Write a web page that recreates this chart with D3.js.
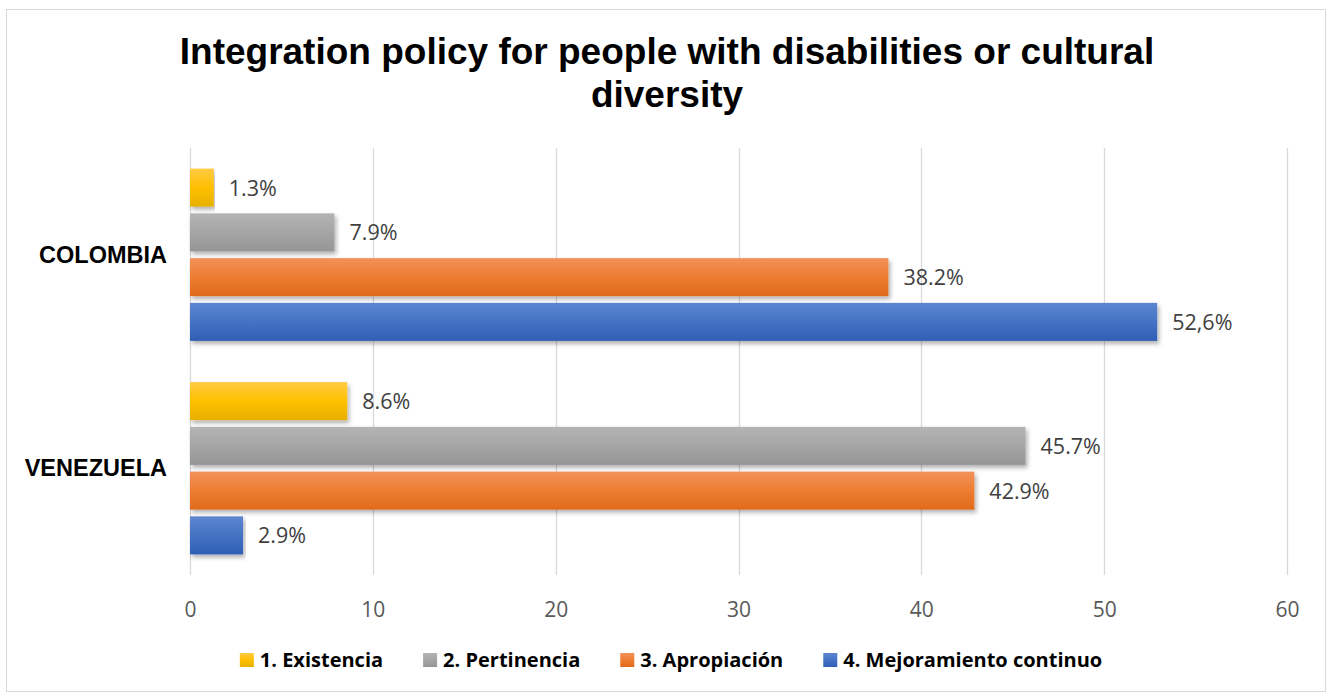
<!DOCTYPE html>
<html>
<head>
<meta charset="utf-8">
<script src="https://cdn.jsdelivr.net/npm/d3@7"></script>
<style>
  body { margin: 0; background: #fff; }
  svg { display: block; }
</style>
</head>
<body>
<div id="chart"></div>
<script>
// Data
const countries = ["COLOMBIA", "VENEZUELA"];
const seriesNames = ["1. Existencia", "2. Pertinencia", "3. Apropiación", "4. Mejoramiento continuo"];
const colombiaValues = [1.3, 7.9, 38.2, 52.9];
const venezuelaValues = [8.6, 45.7, 42.9, 2.9];
const colombiaLabels = ["1.3%", "7.9%", "38.2%", "52,6%"];
const venezuelaLabels = ["8.6%", "45.7%", "42.9%", "2.9%"];
const xTicks = [0, 10, 20, 30, 40, 50, 60];

const seriesColors = [
  ["#ffcb45", "#ffc000", "#e6b000"],
  ["#b4b4b4", "#a5a5a5", "#959595"],
  ["#f3915a", "#ed7d31", "#e06a1c"],
  ["#5e86d0", "#4472c4", "#305fb5"]
];

const rows = [
  { country: countries[0], values: colombiaValues, labels: colombiaLabels },
  { country: countries[1], values: venezuelaValues, labels: venezuelaLabels }
];

const width = 1328;
const height = 693;
const margin = { top: 148, right: 41, bottom: 118, left: 190 };

const svg = d3.select("#chart")
  .append("svg")
  .attr("width", width)
  .attr("height", height);

const defs = svg.append("defs");
seriesColors.forEach((c, i) => {
  const g = defs.append("linearGradient")
    .attr("id", "grad" + i)
    .attr("x1", 0).attr("y1", 0).attr("x2", 0).attr("y2", 1);
  g.append("stop").attr("offset", "0%").attr("stop-color", c[0]);
  g.append("stop").attr("offset", "50%").attr("stop-color", c[1]);
  g.append("stop").attr("offset", "100%").attr("stop-color", c[2]);
});
defs.append("filter")
  .attr("id", "shadow")
  .attr("x", "-5%").attr("y", "-20%").attr("width", "110%").attr("height", "160%")
  .append("feDropShadow")
  .attr("dx", 2).attr("dy", 3)
  .attr("stdDeviation", 2)
  .attr("flood-color", "#000")
  .attr("flood-opacity", 0.3);

// chart frame
svg.append("rect")
  .attr("x", 6.5).attr("y", 9.5)
  .attr("width", 1319).attr("height", 682)
  .attr("fill", "#fff")
  .attr("stroke", "#d9d9d9");

// title
const title = svg.append("text")
  .attr("text-anchor", "middle")
  .attr("font-family", "Liberation Sans, Arial, sans-serif")
  .attr("font-weight", "bold")
  .attr("font-size", 37)
  .attr("fill", "#000");
title.append("tspan").attr("x", 667).attr("y", 64)
  .text("Integration policy for people with disabilities or cultural");
title.append("tspan").attr("x", 667).attr("y", 107)
  .text("diversity");

const x = d3.scaleLinear()
  .domain([0, 60])
  .range([margin.left, width - margin.right]);

const y0 = d3.scaleBand()
  .domain(countries)
  .range([margin.top, height - margin.bottom]);

const y1 = d3.scaleBand()
  .domain(d3.range(seriesNames.length))
  .range([0, y0.bandwidth()])
  .paddingInner(0.15)
  .paddingOuter(0.46);

// gridlines
svg.append("g")
  .selectAll("line")
  .data(xTicks)
  .join("line")
  .attr("x1", d => Math.round(x(d)) + 0.5)
  .attr("x2", d => Math.round(x(d)) + 0.5)
  .attr("y1", margin.top)
  .attr("y2", height - margin.bottom)
  .attr("stroke", "#d9d9d9")
  .attr("stroke-width", 1.3);

// x axis labels
const xAxis = svg.append("g")
  .attr("transform", `translate(0,${height - margin.bottom})`)
  .call(d3.axisBottom(x).tickValues(xTicks).tickSize(0).tickPadding(27).tickFormat(d3.format("d")));
xAxis.select(".domain").remove();
xAxis.selectAll("text")
  .attr("font-family", "Open Sans, sans-serif")
  .attr("font-size", 21)
  .attr("fill", "#595959");

// category labels
svg.append("g")
  .selectAll("text")
  .data(countries)
  .join("text")
  .attr("x", 167)
  .attr("y", d => y0(d) + y0.bandwidth() / 2 + 8)
  .attr("text-anchor", "end")
  .attr("font-family", "Liberation Sans, Arial, sans-serif")
  .attr("font-weight", "bold")
  .attr("font-size", 23.5)
  .attr("fill", "#000")
  .text(d => d);

// bars
const groups = svg.append("g")
  .selectAll("g")
  .data(rows)
  .join("g")
  .attr("transform", d => `translate(0,${y0(d.country)})`);

groups.selectAll("rect")
  .data(d => d.values.map((v, i) => ({ v, i })))
  .join("rect")
  .attr("x", x(0))
  .attr("y", d => y1(d.i))
  .attr("width", d => x(d.v) - x(0))
  .attr("height", y1.bandwidth())
  .attr("fill", d => `url(#grad${d.i})`)
  .attr("filter", "url(#shadow)");

groups.selectAll("text")
  .data(d => d.values.map((v, i) => ({ v, i, label: d.labels[i] })))
  .join("text")
  .attr("x", d => x(d.v) + 15)
  .attr("y", d => y1(d.i) + y1.bandwidth() / 2 + 8)
  .attr("font-family", "Open Sans, sans-serif")
  .attr("font-size", 21.5)
  .attr("fill", "#404040")
  .text(d => d.label);

// legend
const legend = svg.append("g");
const items = legend.selectAll("g")
  .data(seriesNames)
  .join("g");
items.append("rect")
  .attr("width", 14).attr("height", 14)
  .attr("y", 653)
  .attr("fill", (d, i) => `url(#grad${i})`);
items.append("text")
  .attr("x", 20)
  .attr("y", 667)
  .attr("font-family", "Open Sans, sans-serif")
  .attr("font-weight", "bold")
  .attr("font-size", 20)
  .attr("fill", "#000")
  .text(d => d);

let widths = [];
items.each(function () {
  widths.push(20 + d3.select(this).select("text").node().getComputedTextLength());
});
const gap = 40;
const total = d3.sum(widths) + gap * (widths.length - 1);
let cx = 671 - total / 2;
items.attr("transform", (d, i) => {
  const t = `translate(${cx},0)`;
  cx += widths[i] + gap;
  return t;
});
</script>
</body>
</html>
